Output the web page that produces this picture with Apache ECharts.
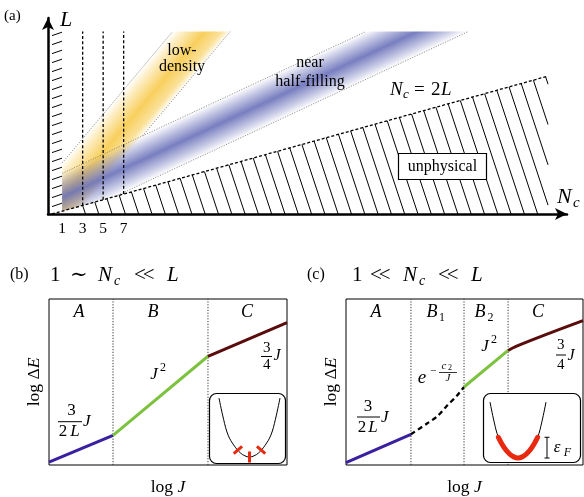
<!DOCTYPE html>
<html><head><meta charset="utf-8">
<script src="https://cdn.jsdelivr.net/npm/echarts@6/dist/echarts.min.js"></script>
<style>html,body{margin:0;padding:0;background:#fff}#c{width:584px;height:497px}</style>
</head><body><div id="c"></div>
<script>
// ---------- panel (a): N_c vs L ----------
const ncTicks = [1, 3, 5, 7];
const dashedNc = [3, 5, 7];
const topL = 32;
const criticalLine = [[0, 0], [48.4, 24.2]];            // N_c = 2L
const lowDensityBand = [[1, 8.95], [11.77, 32], [17.39, 32], [3.18, 1.59], [1, 0.5]];
const halfFillingBand = [[1, 7.12], [30.62, 32], [40.6, 32], [6.18, 3.09], [1, 0.5]];
const lowDensityEdges = [[[1, 8.95], [11.77, 32]], [[8.85, 13.71], [17.39, 32]]];
const halfFillingEdges = [[[1, 7.12], [30.62, 32]], [[6.18, 3.09], [40.6, 32]]];
const hatchStartNc = 3;
// ---------- panel (b) ----------
const bBounds = [2.69, 6.68];
const bBlue = [[0, 0.18], [2.69, 1.79]];
const bGreen = [[2.69, 1.79], [6.68, 6.55]];
const bRed = [[6.68, 6.55], [10, 8.57]];
// ---------- panel (c) ----------
const cBounds = [2.74, 4.98, 6.84];
const cBlue = [[0, 0.15], [2.74, 1.85]];
const cCross = [[2.74, 1.85], [3.42, 2.5], [3.84, 2.92], [4.26, 3.57], [4.68, 4.17], [4.98, 4.7]];
const cGreen = [[4.98, 4.7], [6.84, 6.9]];
const cRed = [[6.84, 6.9], [7.2, 7.16], [8.4, 7.84], [10, 8.7]];
// ---------- insets: dispersion ----------
const wellK = [-1, -0.85, -0.7, -0.5, -0.3, -0.15, 0, 0.15, 0.3, 0.5, 0.7, 0.85, 1];
const wellE = [1, 0.64, 0.37, 0.19, 0.07, 0.02, 0, 0.02, 0.07, 0.19, 0.37, 0.64, 1];
const excitationK = [-0.38, 0, 0.38];
const fermiK = 0.7;
const fermiE = 0.37;

const SERIF = '"Liberation Serif","Times New Roman","DejaVu Serif",serif';
const BLUE = '#3a1fa0', GREEN = '#7cc23f', DRED = '#5a0b0b', RED = '#e8290f';

function interpE(k) {
  for (let i = 0; i < wellK.length - 1; i++) {
    if (k >= wellK[i] && k <= wellK[i + 1]) {
      const t = (k - wellK[i]) / (wellK[i + 1] - wellK[i]);
      return wellE[i] + t * (wellE[i + 1] - wellE[i]);
    }
  }
  return 1;
}
const wellData = wellK.map((k, i) => [k, wellE[i]]);
const fermiData = wellData.filter(p => Math.abs(p[0]) <= fermiK + 1e-9);

function txt(x, y, s, size, o) {
  o = o || {};
  return { type: 'text', x, y, z: 50, style: { text: s, font: (o.it ? 'italic ' : '') + size + 'px ' + SERIF, fill: '#000', textAlign: o.al || 'center', textVerticalAlign: o.va || 'middle' } };
}
function hl(x1, x2, y, w) {
  return { type: 'line', z: 50, shape: { x1, y1: y, x2, y2: y }, style: { stroke: '#000', lineWidth: w || 1 } };
}
// "much less than" built from two thin serif '<' glyphs
function muchLess(x, y, size) {
  return [txt(x, y, '<', size, { al: 'left' }), txt(x + size * 0.42, y, '<', size, { al: 'left' })];
}

function bandRender(poly, rgb, stops) {
  return function (params, api) {
    const pts = poly.map(p => api.coord(p));
    const dx = pts[1][0] - pts[0][0], dy = pts[1][1] - pts[0][1];
    const len = Math.hypot(dx, dy);
    const nx = -dy / len, ny = dx / len;
    const d = (pts[2][0] - pts[0][0]) * nx + (pts[2][1] - pts[0][1]) * ny;
    const g = new echarts.graphic.LinearGradient(pts[0][0], pts[0][1], pts[0][0] + nx * d, pts[0][1] + ny * d,
      stops.map(s => ({ offset: s[0], color: 'rgba(' + rgb + ',' + s[1] + ')' })), true);
    return { type: 'polygon', shape: { points: pts }, style: { fill: g } };
  };
}

function edgeSeries(seg) {
  return { type: 'line', xAxisIndex: 0, yAxisIndex: 0, data: seg, showSymbol: false, silent: true, z: 3,
    lineStyle: { color: '#777', width: 0.8, type: [1.2, 1.4] } };
}
function boundsSeries(bounds, gi) {
  return { type: 'custom', xAxisIndex: gi, yAxisIndex: gi, data: bounds.map(b => [b, 0]), silent: true, z: 2,
    renderItem: (p, api) => {
      const a = api.coord([api.value(0), 0]), b = api.coord([api.value(0), 10]);
      return { type: 'line', shape: { x1: a[0], y1: a[1], x2: b[0], y2: b[1] }, style: { stroke: '#333', lineWidth: 1, lineDash: [1.2, 1.6] } };
    } };
}
function lineSeries(gi, data, color, extra) {
  return Object.assign({ type: 'line', xAxisIndex: gi, yAxisIndex: gi, data, showSymbol: false, silent: true, z: 4, clip: false,
    lineStyle: { color, width: 3, cap: 'butt' } }, extra || {});
}

const hiddenAxis = (gi, min, max) => ({ gridIndex: gi, type: 'value', min, max, show: false });
const boxAxis = (gi, name, gap, rot) => ({
  gridIndex: gi, type: 'value', min: 0, max: 10,
  axisLine: { show: false }, axisTick: { show: false }, axisLabel: { show: false }, splitLine: { show: false },
  name, nameLocation: 'middle', nameGap: gap, nameRotate: rot,
  nameTextStyle: { color: '#000', rich: {
    n: { fontFamily: SERIF, fontSize: 17.5, color: '#000' },
    i: { fontFamily: SERIF, fontSize: 17.5, fontStyle: 'italic', color: '#000' } } }
});

const graphic = [
  // panel (a)
  txt(4, 16, '(a)', 15, { al: 'left' }),
  txt(66, 20, 'L', 22, { it: true }),
  txt(557, 197, 'N', 22, { it: true, al: 'left' }),
  txt(573, 203, 'c', 15, { it: true, al: 'left' }),
  txt(182, 51, 'low-', 16), txt(182, 67, 'density', 16),
  txt(310, 63, 'near', 16), txt(310, 82, 'half-filling', 16),
  txt(390, 90, 'N', 19, { it: true, al: 'left' }),
  txt(403, 95, 'c', 13, { it: true, al: 'left' }),
  txt(414, 90, '=', 19, { al: 'left' }),
  txt(431, 90, '2', 19, { al: 'left' }),
  txt(441, 90, 'L', 19, { it: true, al: 'left' }),
  { type: 'rect', z: 5, shape: { x: 398.5, y: 153.5, width: 88, height: 26 }, style: { fill: '#fff', stroke: '#000', lineWidth: 1.2 } },
  txt(442.5, 166.5, 'unphysical', 16),
  // panel (b) title
  txt(10, 275, '(b)', 16, { al: 'left' }),
  txt(50, 275, '1', 21, { al: 'left' }),
  txt(70, 275, '∼', 21, { al: 'left' }),
  txt(98, 275, 'N', 21, { it: true, al: 'left' }),
  txt(114, 281, 'c', 14, { it: true, al: 'left' }),
  ...muchLess(134, 275, 21),
  txt(167, 275, 'L', 21, { it: true, al: 'left' }),
  // panel (b) regions
  txt(79, 312, 'A', 18, { it: true }), txt(153, 312, 'B', 18, { it: true }), txt(247, 312, 'C', 18, { it: true }),
  // 3/(2L) J
  txt(71.5, 411, '3', 17), hl(58, 82, 421.7, 1), txt(63, 432, '2', 17), txt(75, 432, 'L', 17, { it: true }),
  txt(83, 422, 'J', 17, { it: true, al: 'left' }),
  txt(154, 375, 'J', 17, { it: true }), txt(163, 368, '2', 12),
  txt(266.7, 348, '3', 15), hl(261, 272, 356.5, 1), txt(266.7, 365, '4', 15), txt(277, 356, 'J', 16, { it: true }),
  // panel (c) title
  txt(307, 275, '(c)', 16, { al: 'left' }),
  txt(352, 275, '1', 21, { al: 'left' }),
  ...muchLess(370, 275, 21),
  txt(403, 275, 'N', 21, { it: true, al: 'left' }),
  txt(419, 281, 'c', 14, { it: true, al: 'left' }),
  ...muchLess(438, 275, 21),
  txt(471, 275, 'L', 21, { it: true, al: 'left' }),
  // panel (c) regions
  txt(376, 312, 'A', 18, { it: true }),
  txt(432, 312, 'B', 18, { it: true }), txt(442, 318, '1', 12),
  txt(480, 312, 'B', 18, { it: true }), txt(490.5, 318, '2', 12),
  txt(538, 312, 'C', 18, { it: true }),
  txt(368, 406.5, '3', 17), hl(357, 380, 417, 1), txt(362, 427.5, '2', 17), txt(373, 427.5, 'L', 17, { it: true }),
  txt(381, 417.5, 'J', 17, { it: true, al: 'left' }),
  txt(422, 378, 'e', 19, { it: true }), txt(433, 371, '−', 11),
  txt(444, 366, 'c', 11, { it: true }), txt(450, 368, '2', 8), hl(439, 457, 372.5, 0.8), txt(448, 378, 'J', 11, { it: true }),
  txt(485, 347, 'J', 17, { it: true }), txt(494, 340, '2', 12),
  txt(560.7, 345, '3', 15), hl(556, 566, 355, 1), txt(560.7, 365, '4', 15), txt(571, 356, 'J', 16, { it: true }),
  // insets
  { type: 'rect', z: 5, shape: { x: 209.5, y: 393.5, width: 76, height: 70, r: 7 }, style: { fill: '#fff', stroke: '#000', lineWidth: 1.2 } },
  { type: 'rect', z: 5, shape: { x: 483.5, y: 393.5, width: 97, height: 69, r: 7 }, style: { fill: '#fff', stroke: '#000', lineWidth: 1.2 } },
  txt(557, 448, 'ε', 17, { it: true }), txt(567.5, 453, 'F', 12, { it: true })
];

const option = {
  animation: false,
  backgroundColor: '#fff',
  grid: [
    { left: 48, top: 18, width: 519, height: 196 },
    { left: 49, top: 299, width: 238, height: 168, show: true, borderColor: '#000', borderWidth: 1 },
    { left: 346, top: 299, width: 237, height: 168, show: true, borderColor: '#000', borderWidth: 1 },
    { left: 219, top: 398, width: 61, height: 59 },
    { left: 490, top: 402, width: 56, height: 56 }
  ],
  xAxis: [
    { gridIndex: 0, type: 'value', min: -0.38, max: 50.25,
      axisLine: { onZero: false, lineStyle: { color: '#000', width: 2.5 }, symbol: ['none', 'arrow'], symbolSize: [9, 12] },
      axisTick: { show: false }, splitLine: { show: false },
      axisLabel: { customValues: ncTicks, fontFamily: SERIF, fontSize: 15.5, color: '#000', margin: 7 } },
    boxAxis(1, '{n|log }{i|J}', 13, 0),
    boxAxis(2, '{n|log }{i|J}', 13, 0),
    hiddenAxis(3, -1, 1), hiddenAxis(4, -1, 1)
  ],
  yAxis: [
    { gridIndex: 0, type: 'value', min: 0, max: 34.39,
      axisLine: { onZero: false, lineStyle: { color: '#000', width: 2.5 }, symbol: ['none', 'arrow'], symbolSize: [9, 12] },
      axisTick: { show: false }, splitLine: { show: false }, axisLabel: { show: false } },
    boxAxis(1, '{n|log Δ}{i|E}', 6, 90),
    boxAxis(2, '{n|log Δ}{i|E}', 6, 90),
    hiddenAxis(3, 0, 1), hiddenAxis(4, 0, 1)
  ],
  graphic: { elements: graphic },
  series: [
    { type: 'custom', xAxisIndex: 0, yAxisIndex: 0, data: [[0, 0]], silent: true, z: 1, clip: false,
      renderItem: bandRender(lowDensityBand, '248,205,85', [[0, 0], [0.15, 0.3], [0.55, 0.95], [0.85, 0.6], [1, 0.05]]) },
    { type: 'custom', xAxisIndex: 0, yAxisIndex: 0, data: [[0, 0]], silent: true, z: 1, clip: false,
      renderItem: bandRender(halfFillingBand, '105,112,185', [[0, 0], [0.18, 0.35], [0.5, 0.9], [0.82, 0.35], [1, 0]]) },
    edgeSeries(lowDensityEdges[0]), edgeSeries(lowDensityEdges[1]),
    edgeSeries(halfFillingEdges[0]), edgeSeries(halfFillingEdges[1]),
    { type: 'line', xAxisIndex: 0, yAxisIndex: 0, data: criticalLine, showSymbol: false, silent: true, z: 4,
      lineStyle: { color: '#000', width: 1.3, type: [3, 2] } },
    { type: 'custom', xAxisIndex: 0, yAxisIndex: 0, data: dashedNc.map(n => [n, n / 2]), silent: true, z: 4,
      renderItem: (p, api) => {
        const n = api.value(0);
        const a = api.coord([n, n / 2]), b = api.coord([n, topL]);
        return { type: 'line', shape: { x1: a[0], y1: a[1], x2: b[0], y2: b[1] }, style: { stroke: '#000', lineWidth: 1.3, lineDash: [3, 2.2] } };
      } },
    { type: 'custom', xAxisIndex: 0, yAxisIndex: 0, data: [[0, 0]], silent: true, z: 2, clip: false,
      renderItem: (p, api) => {
        const o = api.coord([0, 0]);
        const pL = api.coord([hatchStartNc, hatchStartNc / 2]);
        const pR = api.coord(criticalLine[1]);
        const y0 = api.coord([0, 0])[1];
        const xAxisPx = api.coord([-0.38, 0])[0];
        const xL = pL[0], xR = pR[0];
        const m = (pR[1] - o[1]) / (pR[0] - o[0]);
        const k = 0.33, step = 13.3;
        const ch = [];
        for (let xb = xL + k * (y0 - pL[1]); xb < xR + k * (y0 - pR[1]) + step; xb += step) {
          let tTop = m * (xb - o[0]) / (m * k - 1);
          tTop = Math.min(tTop, (xb - xL) / k);
          const tBot = Math.max(0, (xb - xR) / k);
          if (tTop > tBot) ch.push({ type: 'line', shape: { x1: xb - k * tBot, y1: y0 - tBot, x2: xb - k * tTop, y2: y0 - tTop }, style: { stroke: '#000', lineWidth: 1 } });
        }
        const yTop = api.coord([0, 31.6])[1], yBot = api.coord([0, 1.6])[1];
        for (let i = 0; i <= 19; i++) {
          const y = yTop + (yBot - yTop) * i / 19;
          ch.push({ type: 'line', shape: { x1: xAxisPx + 4, y1: y + 1.7, x2: xAxisPx + 14, y2: y - 1.7 }, style: { stroke: '#000', lineWidth: 1 } });
        }
        return { type: 'group', children: ch };
      } },
    // panel (b)
    boundsSeries(bBounds, 1),
    lineSeries(1, bBlue, BLUE), lineSeries(1, bGreen, GREEN), lineSeries(1, bRed, DRED),
    // panel (c)
    boundsSeries(cBounds, 2),
    lineSeries(2, cBlue, BLUE),
    lineSeries(2, cCross, '#000', { smooth: 0.3, lineStyle: { color: '#000', width: 2.3, type: [5, 3.5] } }),
    lineSeries(2, cGreen, GREEN),
    lineSeries(2, cRed, DRED, { smooth: 0.3 }),
    // insets
    { type: 'line', xAxisIndex: 3, yAxisIndex: 3, data: wellData, smooth: 0.4, showSymbol: false, silent: true, clip: false, z: 10,
      lineStyle: { color: '#000', width: 1 } },
    { type: 'custom', xAxisIndex: 3, yAxisIndex: 3, data: excitationK.map(k => [k, interpE(k)]), silent: true, z: 11, clip: false,
      renderItem: (p, api) => {
        const k = api.value(0);
        const c = api.coord([k, interpE(k)]);
        const a = api.coord([k - 0.05, interpE(k - 0.05)]), b = api.coord([k + 0.05, interpE(k + 0.05)]);
        let tx = b[0] - a[0], ty = b[1] - a[1];
        const l = Math.hypot(tx, ty); tx /= l; ty /= l;
        const nx = -ty, ny = tx, h = 5.5;
        return { type: 'line', shape: { x1: c[0] - nx * h, y1: c[1] - ny * h, x2: c[0] + nx * h, y2: c[1] + ny * h }, style: { stroke: RED, lineWidth: 3 } };
      } },
    { type: 'line', xAxisIndex: 4, yAxisIndex: 4, data: wellData, smooth: 0.4, showSymbol: false, silent: true, clip: false, z: 10,
      lineStyle: { color: '#000', width: 1 } },
    { type: 'line', xAxisIndex: 4, yAxisIndex: 4, data: fermiData, smooth: 0.4, showSymbol: false, silent: true, clip: false, z: 11,
      lineStyle: { color: RED, width: 5, cap: 'round' } },
    { type: 'custom', xAxisIndex: 4, yAxisIndex: 4, data: [[1, fermiE]], silent: true, z: 11, clip: false,
      renderItem: (p, api) => {
        const top = api.coord([1, api.value(1)]), bot = api.coord([1, 0]);
        const x = top[0] + 1;
        return { type: 'group', children: [
          { type: 'line', shape: { x1: x, y1: top[1], x2: x, y2: bot[1] }, style: { stroke: '#000', lineWidth: 1 } },
          { type: 'line', shape: { x1: x - 2.5, y1: top[1], x2: x + 2.5, y2: top[1] }, style: { stroke: '#000', lineWidth: 1 } },
          { type: 'line', shape: { x1: x - 2.5, y1: bot[1], x2: x + 2.5, y2: bot[1] }, style: { stroke: '#000', lineWidth: 1 } }
        ] };
      } }
  ]
};
const chart = echarts.init(document.getElementById('c'), null, { renderer: 'canvas' });
chart.setOption(option);
</script></body></html>
